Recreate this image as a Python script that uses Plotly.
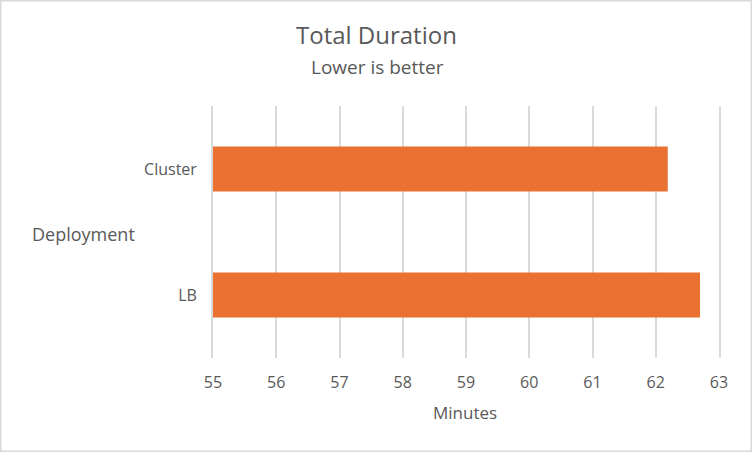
import plotly.graph_objects as go

categories = ["LB", "Cluster"]
minutes = [62.70, 62.19]
x_ticks = [55, 56, 57, 58, 59, 60, 61, 62, 63]

title_text = "Total Duration"
subtitle_text = "Lower is better"
x_title = "Minutes"
y_title = "Deployment"

W, H = 752, 452
L, R, T, B = 213, 33, 106, 94
pw = W - L - R
ph = H - T - B

def px(x):
    return (x - L) / pw

def py(y):
    return (H - B - y) / ph

FONT = "Open Sans"
GREY = "#595959"
GRID = "#D9D9D9"

fig = go.Figure()
fig.add_trace(go.Bar(
    y=categories, x=minutes, orientation="h",
    marker=dict(color="#E97132", line=dict(width=0)),
    hoverinfo="x+y",
))

fig.update_layout(
    width=W, height=H,
    margin=dict(l=L, r=R, t=T, b=B, pad=0),
    paper_bgcolor="white", plot_bgcolor="white",
    bargap=0.643,
    showlegend=False,
    font=dict(family=FONT, color=GREY),
    xaxis=dict(
        range=[55, 63], tickvals=x_ticks, ticktext=[str(v) for v in x_ticks],
        showgrid=True, gridcolor=GRID, gridwidth=1.8,
        zeroline=False, showline=False, ticks="",
        tickfont=dict(size=16, color=GREY, family=FONT),
        ticklabelstandoff=13,
        fixedrange=True,
    ),
    yaxis=dict(
        categoryorder="array", categoryarray=categories,
        showgrid=False, zeroline=False,
        showline=True, linecolor=GRID, linewidth=1.8, mirror=True,
        ticks="",
        tickfont=dict(size=16, color=GREY, family=FONT),
        ticklabelstandoff=11,
        fixedrange=True,
    ),
    annotations=[
        dict(text=title_text, x=px(376.5), y=py(35), xref="paper", yref="paper",
             xanchor="center", yanchor="middle", showarrow=False,
             font=dict(size=24, color=GREY, family=FONT)),
        dict(text=subtitle_text, x=px(377), y=py(67), xref="paper", yref="paper",
             xanchor="center", yanchor="middle", showarrow=False,
             font=dict(size=19, color=GREY, family=FONT)),
        dict(text=y_title, x=px(30), y=py(234), xref="paper", yref="paper",
             xanchor="left", yanchor="middle", showarrow=False,
             font=dict(size=18, color=GREY, family=FONT)),
        dict(text=x_title, x=px(465), y=py(412), xref="paper", yref="paper",
             xanchor="center", yanchor="middle", showarrow=False,
             font=dict(size=17, color=GREY, family=FONT)),
    ],
    shapes=[
        dict(type="rect", xref="paper", yref="paper",
             x0=px(0.75), x1=px(751.25), y0=py(451.25), y1=py(0.75),
             line=dict(color=GRID, width=1.5), fillcolor="rgba(0,0,0,0)",
             layer="below"),
    ],
)

fig.write_html("out.html",
               config={"displayModeBar": False},
               post_script="document.body.style.margin='0';document.body.style.overflow='hidden';")
